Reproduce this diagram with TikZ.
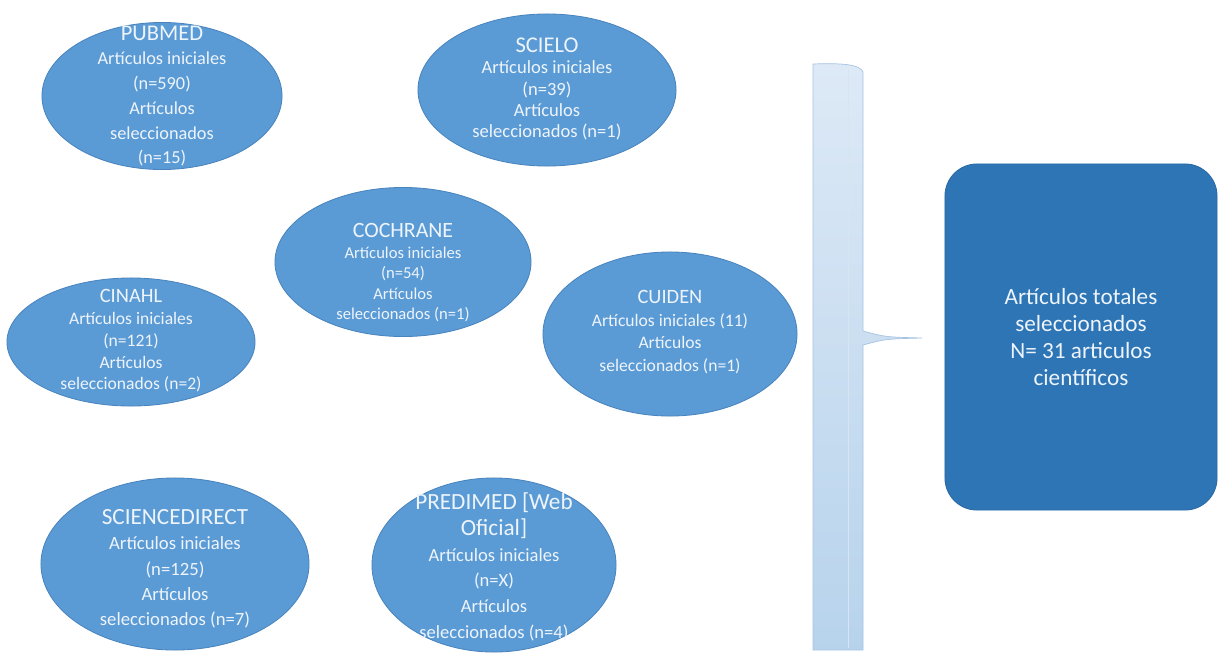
\documentclass[tikz,border=0pt]{standalone}
\usepackage{fontspec}
\setmainfont{Carlito}
\definecolor{DbBlue}{HTML}{5B9BD5}
\definecolor{DbEdge}{HTML}{4A84BE}
\definecolor{DbText}{HTML}{EEF4FB}
\definecolor{TotalBlue}{HTML}{2E75B6}
\definecolor{TotalEdge}{HTML}{2A69A4}
\definecolor{BarTop}{HTML}{DDE9F6}
\definecolor{BarBottom}{HTML}{B7D3EC}
\definecolor{BarEdge}{HTML}{A6C3E2}
\usetikzlibrary{shapes.geometric}
\tikzset{
  dbnode/.style={ellipse, draw=DbEdge, line width=0.6pt, fill=DbBlue, inner sep=0pt},
  dbtext/.style={text=DbText, align=center, inner sep=0pt, font=\fontsize{13}{16}\selectfont},
  totalbox/.style={draw=TotalEdge, line width=0.6pt, fill=TotalBlue, rounded corners=0.8cm, minimum width=6.8cm, minimum height=8.65cm, text=DbText, align=center, font=\fontsize{16.5}{19}\selectfont}
}
\newcommand{\dbtitle}[2]{{\fontsize{#1}{10}\selectfont #2}}

\begin{document}
\begin{tikzpicture}[x=0.025cm, y=-0.025cm]
\useasboundingbox (0,0) rectangle (1222,652);

% databases
\node[dbnode, minimum width=6cm, minimum height=3.675cm] (pubmed) at (162,96) {};
\node[dbnode, minimum width=6.45cm, minimum height=3.8cm] (scielo) at (547,90) {};
\node[dbnode, minimum width=6.2cm, minimum height=3.2cm] (cinahl) at (131,342) {};
\node[dbnode, minimum width=6.4cm, minimum height=3.725cm] (cochrane) at (403,262) {};
\node[dbnode, minimum width=6.35cm, minimum height=4.1cm] (cuiden) at (670,334) {};
\node[dbnode, minimum width=6.7cm, minimum height=4.3cm] (sciencedirect) at (175,564) {};
\node[dbnode, minimum width=6.1cm, minimum height=4.35cm] (predimed) at (494,565) {};

\node[dbtext, font=\fontsize{13}{17.6}\selectfont] (pubmed-t) at (162,96)
  {\dbtitle{16}{PUBMED}\\Artículos iniciales\\(n=590)\\Artículos\\seleccionados\\(n=15)};
\node[dbtext, font=\fontsize{13.2}{15}\selectfont] (scielo-t) at (547,89)
  {\dbtitle{16}{SCIELO}\\Artículos iniciales\\(n=39)\\Artículos\\seleccionados (n=1)};
\node[dbtext, font=\fontsize{12.5}{15.5}\selectfont] (cinahl-t) at (131,341)
  {\dbtitle{14.5}{CINAHL}\\Artículos iniciales\\(n=121)\\Artículos\\seleccionados (n=2)};
\node[dbtext, font=\fontsize{11.8}{14.6}\selectfont] (cochrane-t) at (403,273)
  {\dbtitle{15.5}{COCHRANE}\\Artículos iniciales\\(n=54)\\Artículos\\seleccionados (n=1)};
\node[dbtext, font=\fontsize{12.5}{16.2}\selectfont] (cuiden-t) at (670,332)
  {\dbtitle{14.5}{CUIDEN}\\Artículos iniciales (11)\\Artículos\\seleccionados (n=1)};
\node[dbtext, font=\fontsize{13.3}{18}\selectfont] (sciencedirect-t) at (175,569)
  {\dbtitle{16.5}{SCIENCEDIRECT}\\Artículos iniciales\\(n=125)\\Artículos\\seleccionados (n=7)};
\node[dbtext, font=\fontsize{13.2}{18.3}\selectfont] (predimed-t) at (494,567)
  {\dbtitle{16.5}{PREDIMED [Web}\\\dbtitle{16.5}{Oficial]}\\Artículos iniciales\\(n=X)\\Artículos\\seleccionados (n=4)};

% brace
\coordinate (bar-tip) at (922,338);
\shadedraw[top color=BarTop, bottom color=BarBottom, draw=BarEdge, line width=0.5pt]
  (813,64) .. controls (840,63) and (860,64) .. (863,72) -- (863,331)
  .. controls (885,337) .. (bar-tip) .. controls (885,339) .. (863,345)
  -- (863,650) -- (813,650) -- cycle;
\draw[BarEdge!45, line width=0.4pt] (848,70) -- (848,648);

% total
\node[totalbox] (total) at (1081,337)
  {Artículos totales\\seleccionados\\N= 31 articulos\\científicos};
\end{tikzpicture}
\end{document}
